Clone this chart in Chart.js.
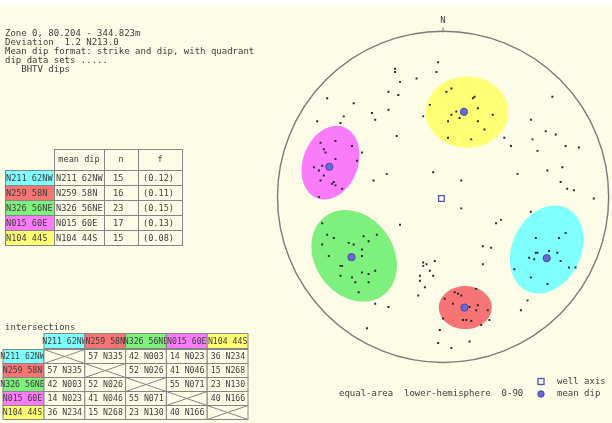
<!DOCTYPE html>
<html><head><meta charset="utf-8">
<script src="https://cdn.jsdelivr.net/npm/chart.js@4/dist/chart.umd.min.js"></script>
<style>html,body{margin:0;padding:0;background:#fdfde7;}canvas{display:block;}</style>
</head><body>
<canvas id="c" width="612" height="423"></canvas>
<script>
// ---------- dip sets (stereonet units: primitive circle radius = 100) ----------
const setNames = ['N211 62NW', 'N259 58N', 'N326 56NE', 'N015 60E', 'N104 44S'];
const setCounts = [15, 16, 23, 17, 15];
const setFractions = ['(0.12)', '(0.11)', '(0.15)', '(0.13)', '(0.08)'];
const setColors = ['#80ffff', '#f77474', '#7df07d', '#fa7cfa', '#ffff74'];

// mean dip poles
const meanDipX = [62.6, 12.9, -55.3, -68.7, 12.6];
const meanDipY = [-37.3, -67.4, -36.7, 18.3, 51.8];

// confidence cones around each set
const coneX = [62.6, 13.4, -53.7, -68.0, 14.5];
const coneY = [-32.0, -67.4, -35.9, 20.8, 51.6];
const coneA = [27.9, 16.0, 29.7, 23.1, 24.9];
const coneB = [20.8, 13.1, 23.7, 16.6, 21.7];
const coneAngle = [65, 0, 125, 70, 0];

// individual poles per set
const polesN211 = [[56,-25],[70,-25],[74,-22],[56,-34],[57,-34],[52,-37],[55,-38],[64,-33],[69,-34],[71,-39],[76,-43],[80,-43],[43,-44],[53,-49],[63,-53],[53,-9]];
const polesN259 = [[7,-58],[9,-59],[11,-60],[20,-56],[1,-62],[6,-65],[21,-66],[20,-69],[14,-67],[16,-67],[27,-69],[12,-75],[14,-75],[17,-75.5],[0,-74],[28,-75]];
const polesN326 = [[-73,-16],[-70,-23],[-66,-25],[-73,-29],[-57,-28],[-54,-29],[-48,-24],[-45,-27],[-40,-23],[-49,-32],[-49,-36],[-69,-36],[-62,-42],[-61,-42],[-62,-48],[-55,-49],[-49,-46],[-45,-47],[-41,-45],[-53,-52],[-45,-52],[-51,-58]];
const polesN015 = [[-74,33],[-65,34],[-72,29],[-71,27],[-55,31],[-65,23],[-73,19],[-78,18],[-75,16],[-72,13],[-74,10],[-66,9],[-67,8],[-65,7],[-61,5],[-75,0],[-52,22]];
const polesN104 = [[-8,56],[2,64],[5,66],[19,61],[18,60],[21,54],[8,52],[5,50],[10,48],[3,46],[30,50],[21,46],[25,41],[3,36],[17,35]];
// poles not assigned to a set
const scatteredPoles = [[-3,82],[-4,76],[-29,78],[-29,76],[-26,70],[-16,72],[-33,64],[-27,62],[-70,60],[-54,57],[-43,51],[-33,53],[-12,49],[-60,49],[-41,47],[-76,46],[-62,45],[-28,37],[-49,27],[-34,14],[-42,10],[-6,15],[66,61],[53,47],[37,36],[41,31],[54,35],[62,40],[68,38],[57,28],[74,31],[82,30],[11,10],[45,14],[63,16],[72,18],[71,9],[75,5],[79,4],[91,-1],[11,-7],[32,-16],[35,-14],[-26,-17],[24,-30],[29,-31],[24,-41],[51,-63],[47,-69],[23,-78],[-2,-81],[-3,-89],[16,-88],[5,-92],[-41,-65],[-33,-67],[-46,-80],[-12,-40],[-12,-42],[-10,-41],[-5,-39],[-8,-45],[-14,-48],[-14,-51],[-6,-48],[-11,-55],[-15,-60]];

const wellAxis = [-1, -1];

// intersections between set planes (plunge, trend)
const intersections = [
  [null, '57 N335', '42 N003', '14 N023', '36 N234'],
  ['57 N335', null, '52 N026', '41 N046', '15 N268'],
  ['42 N003', '52 N026', null, '55 N071', '23 N130'],
  ['14 N023', '41 N046', '55 N071', null, '40 N166'],
  ['36 N234', '15 N268', '23 N130', '40 N166', null]
];

const headerLines = [
  'Zone 0, 80.204 - 344.823m',
  'Deviation  1.2 N213.0',
  'Mean dip format: strike and dip, with quadrant',
  'dip data sets .....',
  '   BHTV dips'
];

// ---------- drawing ----------
const FONT = '9px "DejaVu Sans Mono"';
const TABLE_FONT = '8.6px "DejaVu Sans Mono"';
const CELL_FONT = '8.2px "DejaVu Sans Mono"';
const INK = '#3c3c3c';
const GRID = '#858585';
const PAPER = '#fdfde7';

const toPts = arr => arr.map(([x, y]) => ({x, y}));
const dotStyle = {pointStyle: 'rect', pointRadius: 1.4, pointBackgroundColor: '#2a2a2a', pointBorderWidth: 0, showLine: false};

const datasets = [
  {label: 'mean dip', data: meanDipX.map((x, i) => ({x, y: meanDipY[i]})), pointRadius: 3.6,
   pointBackgroundColor: '#6a6ad6', pointBorderColor: '#4646a8', pointBorderWidth: 1, showLine: false},
  {label: 'well axis', data: [{x: wellAxis[0], y: wellAxis[1]}], pointStyle: 'rect', pointRadius: 4,
   pointBackgroundColor: 'rgba(0,0,0,0)', pointBorderColor: '#5252b4', pointBorderWidth: 1.3, showLine: false},
  {label: setNames[0], data: toPts(polesN211), ...dotStyle},
  {label: setNames[1], data: toPts(polesN259), ...dotStyle},
  {label: setNames[2], data: toPts(polesN326), ...dotStyle},
  {label: setNames[3], data: toPts(polesN015), ...dotStyle},
  {label: setNames[4], data: toPts(polesN104), ...dotStyle},
  {label: 'other', data: toPts(scatteredPoles), ...dotStyle}
];

function text(ctx, s, x, y, align) {
  ctx.textAlign = align || 'left';
  ctx.fillText(s, x, y);
}

const stereonet = {
  id: 'stereonet',
  beforeDraw(chart) {
    const ctx = chart.ctx;
    ctx.save();
    ctx.fillStyle = '#ffffff';
    ctx.fillRect(0, 0, chart.width, 7);
    ctx.fillStyle = PAPER;
    ctx.fillRect(0, 7, chart.width, chart.height - 7);
    ctx.restore();
  },
  beforeDatasetsDraw(chart) {
    const ctx = chart.ctx, xs = chart.scales.x, ys = chart.scales.y;
    ctx.save();
    // confidence cones
    for (let i = 0; i < coneX.length; i++) {
      const th = coneAngle[i] * Math.PI / 180;
      ctx.beginPath();
      for (let k = 0; k <= 120; k++) {
        const t = k / 120 * 2 * Math.PI;
        const ex = coneA[i] * Math.cos(t), ey = coneB[i] * Math.sin(t);
        const dx = coneX[i] + ex * Math.cos(th) - ey * Math.sin(th);
        const dy = coneY[i] + ex * Math.sin(th) + ey * Math.cos(th);
        const px = xs.getPixelForValue(dx), py = ys.getPixelForValue(dy);
        if (k === 0) ctx.moveTo(px, py); else ctx.lineTo(px, py);
      }
      ctx.closePath();
      ctx.fillStyle = setColors[i];
      ctx.fill();
    }
    // primitive circle
    const cx = xs.getPixelForValue(0), cy = ys.getPixelForValue(0);
    const r = xs.getPixelForValue(100) - cx;
    ctx.beginPath();
    ctx.arc(cx, cy, r, 0, 2 * Math.PI);
    ctx.strokeStyle = '#7a7a7a';
    ctx.lineWidth = 1.4;
    ctx.stroke();
    // north tick and label
    const top = ys.getPixelForValue(100);
    ctx.beginPath();
    ctx.moveTo(cx, top - 5);
    ctx.lineTo(cx, top);
    ctx.lineWidth = 1;
    ctx.stroke();
    ctx.fillStyle = INK;
    ctx.font = FONT;
    ctx.textBaseline = 'middle';
    text(ctx, 'N', cx, top - 12, 'center');
    ctx.restore();
  },
  afterDraw(chart) {
    const ctx = chart.ctx;
    ctx.save();
    ctx.font = FONT;
    ctx.textBaseline = 'middle';
    ctx.fillStyle = INK;
    // header block
    headerLines.forEach((s, i) => text(ctx, s, 5, 34 + i * 9));

    // mean dip table
    ctx.font = TABLE_FONT;
    ctx.lineWidth = 1;
    ctx.strokeStyle = GRID;
    const c1 = [5, 54, 104, 138, 182];
    const hTop = 149.5, hBot = 170.5, rowH = 15;
    for (let j = 1; j < 4; j++) ctx.strokeRect(c1[j] + 0.5, hTop, c1[j + 1] - c1[j], hBot - hTop);
    ctx.fillStyle = INK;
    text(ctx, 'mean dip', 79, 160, 'center');
    text(ctx, 'n', 121, 160, 'center');
    text(ctx, 'f', 160, 160, 'center');
    for (let i = 0; i < setNames.length; i++) {
      const y0 = hBot + i * rowH;
      ctx.fillStyle = setColors[i];
      ctx.fillRect(c1[0], y0, c1[1] - c1[0], rowH);
      for (let j = 0; j < 4; j++) ctx.strokeRect(c1[j] + 0.5, y0, c1[j + 1] - c1[j], rowH);
      ctx.fillStyle = INK;
      const ym = y0 + rowH / 2 + 0.5;
      text(ctx, setNames[i], 6, ym);
      text(ctx, setNames[i], 56, ym);
      text(ctx, String(setCounts[i]), 113, ym);
      text(ctx, setFractions[i], 143, ym);
    }

    // intersections table
    ctx.font = FONT;
    text(ctx, 'intersections', 5, 328);
    ctx.font = CELL_FONT;
    const colW = 40.8, x0 = 44, labL = 3;
    const iTop = 333.5, iHead = 15, iRow = 14;
    for (let j = 0; j < setNames.length; j++) {
      const cx0 = x0 + j * colW;
      ctx.fillStyle = setColors[j];
      ctx.fillRect(cx0, iTop, colW, iHead);
      ctx.strokeRect(cx0, iTop, colW, iHead);
      ctx.fillStyle = INK;
      text(ctx, setNames[j], cx0 + colW / 2, iTop + iHead / 2 + 0.5, 'center');
    }
    for (let i = 0; i < setNames.length; i++) {
      const y0 = iTop + iHead + 1 + i * iRow;
      ctx.fillStyle = setColors[i];
      ctx.fillRect(labL, y0, x0 - labL, iRow);
      ctx.strokeRect(labL, y0, x0 - labL, iRow);
      ctx.fillStyle = INK;
      text(ctx, setNames[i], (labL + x0) / 2 - 1, y0 + iRow / 2 + 0.5, 'center');
      for (let j = 0; j < setNames.length; j++) {
        const cx0 = x0 + j * colW;
        ctx.fillStyle = PAPER;
        ctx.fillRect(cx0, y0, colW, iRow);
        ctx.strokeRect(cx0, y0, colW, iRow);
        const v = intersections[i][j];
        if (v === null) {
          ctx.beginPath();
          ctx.moveTo(cx0, y0); ctx.lineTo(cx0 + colW, y0 + iRow);
          ctx.moveTo(cx0, y0 + iRow); ctx.lineTo(cx0 + colW, y0);
          ctx.stroke();
        } else {
          ctx.fillStyle = INK;
          text(ctx, v, cx0 + 3.5, y0 + iRow / 2 + 0.5);
        }
      }
    }

    // projection note and key
    ctx.font = FONT;
    ctx.fillStyle = INK;
    text(ctx, 'equal-area  lower-hemisphere  0-90', 339, 393.5);
    text(ctx, 'well axis', 557, 381.5);
    text(ctx, 'mean dip', 557, 393.5);
    ctx.strokeStyle = '#5252b4';
    ctx.lineWidth = 1.3;
    ctx.strokeRect(538, 378.5, 6, 6);
    ctx.beginPath();
    ctx.arc(541, 394, 3.2, 0, 2 * Math.PI);
    ctx.fillStyle = '#6a6ad6';
    ctx.fill();
    ctx.strokeStyle = '#4646a8';
    ctx.lineWidth = 1;
    ctx.stroke();
    ctx.restore();
  }
};

// pixel size of one stereonet unit, and the centre of the net on the page
const UNIT = 1.685, NET_CX = 445.5, NET_CY = 196.5, W = 612, H = 423;

new Chart(document.getElementById('c'), {
  type: 'scatter',
  data: {datasets},
  options: {
    responsive: false,
    devicePixelRatio: 1,
    animation: false,
    events: [],
    layout: {padding: 0},
    plugins: {legend: {display: false}, tooltip: {enabled: false}},
    scales: {
      x: {type: 'linear', display: false, min: -NET_CX / UNIT, max: (W - NET_CX) / UNIT},
      y: {type: 'linear', display: false, min: -(H - NET_CY) / UNIT, max: NET_CY / UNIT}
    }
  },
  plugins: [stereonet]
});
</script>
</body></html>
